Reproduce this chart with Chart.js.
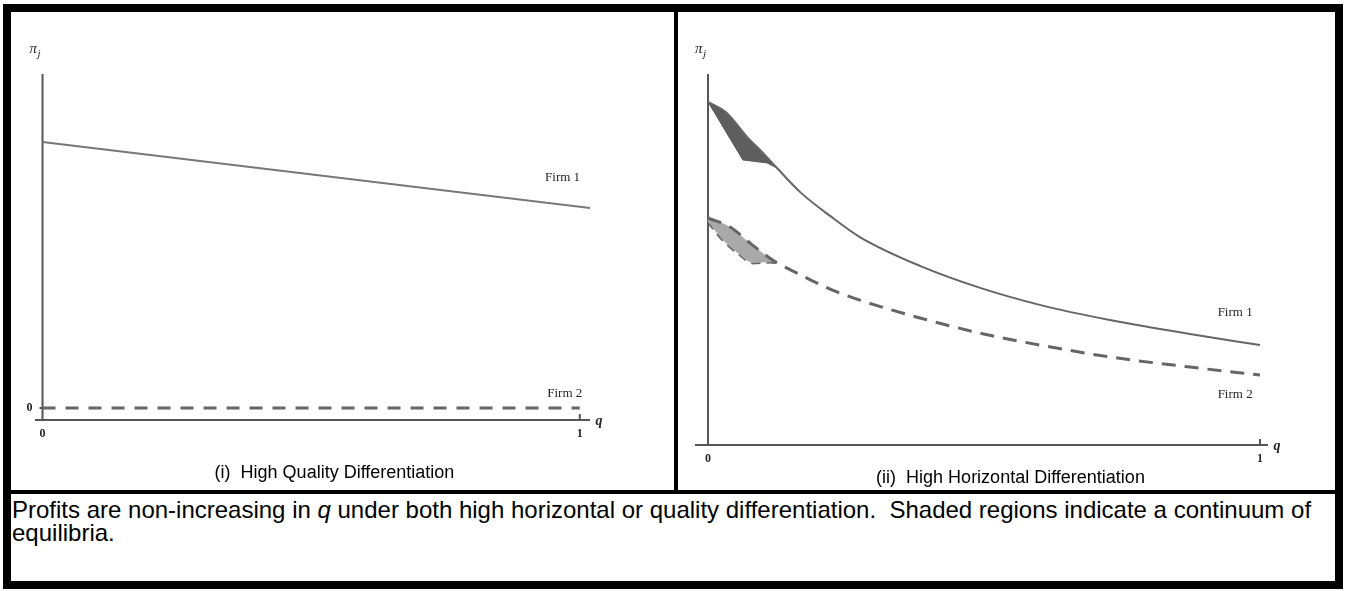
<!DOCTYPE html>
<html>
<head>
<meta charset="utf-8">
<title>Profits and q</title>
<script src="https://cdn.jsdelivr.net/npm/chart.js@4.4.1/dist/chart.umd.min.js"></script>
<style>
    body { margin: 0; background: #fff; font-family: Arial, "Liberation Sans", sans-serif; }
    #frame { position: absolute; left: 3px; top: 4px; width: 1340px; height: 585px; box-sizing: border-box; border: 8px solid #000; }
    #vdiv { position: absolute; left: 674px; top: 4px; width: 4px; height: 488px; background: #000; }
    #hdiv { position: absolute; left: 3px; top: 490px; width: 1340px; height: 4px; background: #000; }
    canvas { position: absolute; }
    #c1 { left: 11px; top: 12px; }
    #c2 { left: 678px; top: 12px; }
    .sub { position: absolute; font-size: 18px; color: #000; text-align: center; white-space: pre; }
    #cap1 { left: 3px; width: 663px; top: 462px; }
    #cap2 { left: 678px; width: 665px; top: 467px; }
    #note { position: absolute; left: 12px; top: 498px; font-size: 24px; line-height: 23px; color: #000; white-space: nowrap; }
</style>
</head>
<body>
<div id="frame"></div>
<canvas id="c1" width="663" height="478"></canvas>
<canvas id="c2" width="657" height="478"></canvas>
<div id="vdiv"></div>
<div id="hdiv"></div>
<div class="sub" id="cap1">(i)  High Quality Differentiation</div>
<div class="sub" id="cap2">(ii)  High Horizontal Differentiation</div>
<div id="note">Profits are non-increasing in <i>q</i> under both high horizontal or quality differentiation.&nbsp; Shaded regions indicate a continuum of<br>equilibria.</div>

<script>
    // (i) high quality differentiation
    const qualityQ = [0, 1.02];
    const qualityFirm1 = [1.0, 0.752];
    const qualityFirm2Q = [0, 1.0];
    const qualityFirm2 = [0, 0];

    // (ii) high horizontal differentiation
    const horizFirm1Q = [0, 0.034, 0.071, 0.100, 0.125, 0.167, 0.221, 0.275, 0.384, 0.493, 0.601, 0.728, 0.873, 1.0];
    const horizFirm1 = [1.106, 1.069, 0.988, 0.934, 0.884, 0.803, 0.723, 0.652, 0.555, 0.481, 0.424, 0.373, 0.326, 0.289];
    const horizFirm2Q = [0, 0.040, 0.076, 0.109, 0.125, 0.161, 0.221, 0.275, 0.384, 0.493, 0.601, 0.728, 0.873, 1.0];
    const horizFirm2 = [0.716, 0.686, 0.632, 0.585, 0.565, 0.531, 0.477, 0.440, 0.380, 0.329, 0.289, 0.249, 0.215, 0.188];

    // shaded equilibrium sets (lower edges; upper edges follow the curves)
    const shade1LowQ = [0, 0.063, 0.107, 0.125];
    const shade1Low = [1.106, 0.911, 0.901, 0.884];
    const shade2LowQ = [0, 0.027, 0.058, 0.082, 0.112, 0.125];
    const shade2Low = [0.703, 0.642, 0.592, 0.565, 0.568, 0.565];

    const xTicks = ['0', '1'];

    const LINE = '#666';
    const AXIS = '#555';
    const TEXT = '#262626';

    function pts(xs, ys) {
        return xs.map((x, i) => ({ x: x, y: ys[i] }));
    }

    function firstN(xs, ys, n) {
        return pts(xs.slice(0, n), ys.slice(0, n));
    }

    /**
     * Axes, tick labels and curve labels
     */
    const axesPlugin = {
        id: 'axes',
        beforeDatasetsDraw(chart, args, opts) {
            const { ctx, scales: { x, y } } = chart;
            const x0 = x.getPixelForValue(0);
            const x1 = x.getPixelForValue(1);
            const yb = y.bottom;
            ctx.save();
            ctx.strokeStyle = AXIS;
            ctx.lineWidth = 2;
            ctx.beginPath();
            ctx.moveTo(x.left, yb); ctx.lineTo(x.right, yb);
            ctx.moveTo(x0, y.top); ctx.lineTo(x0, yb + 1);
            ctx.moveTo(x1, yb); ctx.lineTo(x1, yb - 6);
            if (opts.zeroTick) {
                const y0 = y.getPixelForValue(0);
                ctx.moveTo(x0 - 3, y0); ctx.lineTo(x0 + 7, y0);
            }
            ctx.stroke();

            ctx.fillStyle = TEXT;
            ctx.textAlign = 'center';
            ctx.textBaseline = 'middle';
            ctx.font = 'bold 12px "Liberation Serif", serif';
            ctx.fillText(xTicks[0], x0, yb + 14);
            ctx.fillText(xTicks[1], x1, yb + 14);
            if (opts.zeroTick) {
                ctx.fillText('0', x0 - 13, y.getPixelForValue(0));
            }
            ctx.font = 'italic bold 14px "Liberation Serif", serif';
            ctx.fillText('q', x.right + 9, yb + 1);

            // pi_j
            ctx.textAlign = 'left';
            ctx.font = 'italic 15px "Liberation Serif", serif';
            ctx.fillText('π', x0 - 13, y.top - 25);
            ctx.font = 'italic 11px "Liberation Serif", serif';
            ctx.fillText('j', x0 - 5, y.top - 20);

            ctx.textAlign = 'center';
            ctx.font = '13px "Liberation Serif", serif';
            opts.labels.forEach(l => {
                ctx.fillText(l.text, x.getPixelForValue(l.q), y.getPixelForValue(l.v));
            });
            ctx.restore();
        }
    };

    function baseOptions(xMin, xMax, yMin, yMax, padding, plugOpts) {
        return {
            responsive: false,
            animation: false,
            events: [],
            layout: { padding: padding },
            plugins: {
                legend: { display: false },
                tooltip: { enabled: false },
                axes: plugOpts
            },
            elements: { point: { radius: 0 } },
            scales: {
                x: { type: 'linear', min: xMin, max: xMax, display: false },
                y: { type: 'linear', min: yMin, max: yMax, display: false }
            }
        };
    }

    function initQualityChart() {
        new Chart(document.getElementById('c1'), {
            type: 'line',
            data: {
                datasets: [
                    {
                        label: 'Firm 1',
                        data: pts(qualityQ, qualityFirm1),
                        borderColor: '#777',
                        borderWidth: 2,
                        fill: false
                    },
                    {
                        label: 'Firm 2',
                        data: pts(qualityFirm2Q, qualityFirm2),
                        borderColor: LINE,
                        borderWidth: 3,
                        borderDash: [13, 10],
                        fill: false
                    }
                ]
            },
            options: baseOptions(-0.014, 1.019, -0.045, 1.256,
                { left: 24, right: 84, top: 62, bottom: 70 },
                {
                    zeroTick: true,
                    labels: [
                        { text: 'Firm 1', q: 0.968, v: 0.865 },
                        { text: 'Firm 2', q: 0.972, v: 0.056 }
                    ]
                }),
            plugins: [axesPlugin]
        });
    }

    function initHorizontalChart() {
        const curve = { cubicInterpolationMode: 'monotone', pointRadius: 0 };
        new Chart(document.getElementById('c2'), {
            type: 'line',
            data: {
                datasets: [
                    Object.assign({
                        label: 'Firm 1',
                        data: pts(horizFirm1Q, horizFirm1),
                        borderColor: LINE,
                        borderWidth: 2,
                        fill: false,
                        order: 1
                    }, curve),
                    Object.assign({
                        label: 'Firm 2',
                        data: pts(horizFirm2Q, horizFirm2),
                        borderColor: LINE,
                        borderWidth: 3,
                        borderDash: [14, 9],
                        fill: false,
                        order: 1
                    }, curve),
                    Object.assign({
                        label: 'shade 1 top',
                        data: firstN(horizFirm1Q, horizFirm1, 5),
                        borderWidth: 0,
                        borderColor: 'rgba(0,0,0,0)',
                        fill: { target: '+1', above: '#5e5e5e', below: '#5e5e5e' },
                        order: 2
                    }, curve),
                    {
                        label: 'shade 1 low',
                        data: pts(shade1LowQ, shade1Low),
                        borderColor: '#5e5e5e',
                        borderWidth: 1,
                        fill: false,
                        order: 2
                    },
                    Object.assign({
                        label: 'shade 2 top',
                        data: firstN(horizFirm2Q, horizFirm2, 5),
                        borderWidth: 0,
                        borderColor: 'rgba(0,0,0,0)',
                        fill: { target: '+1', above: '#a9a9a9', below: '#a9a9a9' },
                        order: 2
                    }, curve),
                    Object.assign({
                        label: 'shade 2 low',
                        data: pts(shade2LowQ, shade2Low),
                        borderColor: LINE,
                        borderWidth: 3,
                        borderDash: [9, 6],
                        fill: false,
                        order: 2
                    }, curve)
                ]
            },
            options: baseOptions(-0.0236, 1.0145, -0.047, 1.2,
                { left: 17, right: 67, top: 62, bottom: 45 },
                {
                    zeroTick: false,
                    labels: [
                        { text: 'Firm 1', q: 0.955, v: 0.397 },
                        { text: 'Firm 2', q: 0.955, v: 0.124 }
                    ]
                }),
            plugins: [axesPlugin]
        });
    }

    initQualityChart();
    initHorizontalChart();
</script>
</body>
</html>
